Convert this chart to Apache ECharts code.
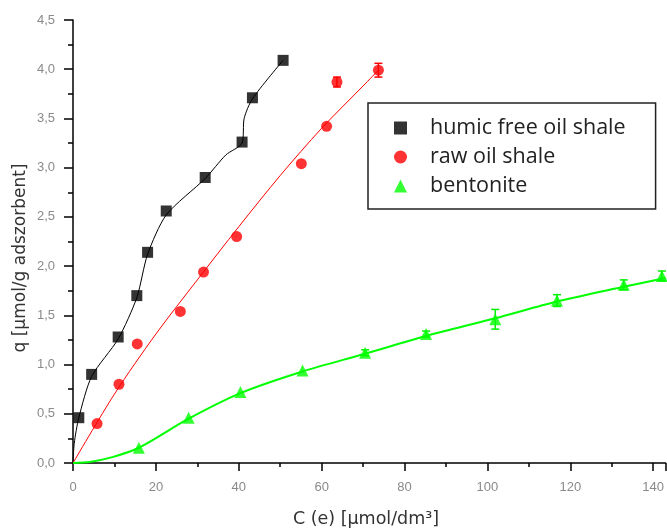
<!DOCTYPE html>
<html>
<head>
<meta charset="utf-8">
<script src="https://cdn.jsdelivr.net/npm/echarts@6/dist/echarts.min.js"></script>
<style>
html,body{margin:0;padding:0;background:#fff;}
#chart{width:667px;height:528px;}
</style>
</head>
<body>
<div id="chart"></div>
<script>
// ---- data ----
var humicPoints = [[1.4,0.46],[4.5,0.90],[10.9,1.28],[15.4,1.70],[18.0,2.14],[22.5,2.56],[31.9,2.90],[40.8,3.26],[43.3,3.71],[50.7,4.09]];
var humicFit = [[0,0],[0.3,0.2],[1.4,0.46],[4.5,0.88],[10.9,1.26],[15.4,1.68],[18.0,2.12],[22.5,2.52],[31.9,2.89],[36.9,3.13],[40.8,3.25],[41.3,3.5],[43.3,3.70],[50.7,4.09]];
var rawPoints = [[5.8,0.40],[11.1,0.80],[15.5,1.21],[25.9,1.54],[31.5,1.94],[39.5,2.30],[55.1,3.04],[61.2,3.42],[63.7,3.87],[73.7,3.99]];
var rawFit = [[0,0],[10,0.70],[20,1.31],[30,1.86],[40,2.40],[50,2.92],[60,3.40],[70,3.83],[73.7,3.99]];
var rawErr = [[63.7,3.87,0.05],[73.7,3.99,0.07]];
var bentPoints = [[15.9,0.155],[27.9,0.46],[40.4,0.72],[55.4,0.94],[70.5,1.12],[85.2,1.31],[101.9,1.46],[116.8,1.65],[132.9,1.81],[142.1,1.90]];
var bentFit = [[0,0],[4,0.01],[9.5,0.06],[15.9,0.155],[27.9,0.45],[40.4,0.71],[55.4,0.93],[70.5,1.11],[85.2,1.29],[101.9,1.47],[116.8,1.64],[132.9,1.79],[143,1.88]];
var bentErr = [[70.5,1.12,0.03],[85.2,1.31,0.03],[101.9,1.46,0.1],[116.8,1.65,0.06],[132.9,1.81,0.05],[142.1,1.90,0.05]];
var seriesNames = ['humic free oil shale','raw oil shale','bentonite'];
var xTitle = 'C (e) [\u00b5mol/dm\u00b3]';
var yTitle = 'q [\u00b5mol/g adszorbent]';

function errSeries(data, color){
  return {
    type:'custom', data:data, z:4, silent:true,
    renderItem:function(params, api){
      var x = api.value(0), y = api.value(1), e = api.value(2);
      var lo = api.coord([x, y-e]), hi = api.coord([x, y+e]);
      var w = 4;
      var st = {stroke:color, lineWidth:1.5};
      return {type:'group', children:[
        {type:'line', shape:{x1:lo[0],y1:lo[1],x2:hi[0],y2:hi[1]}, style:st},
        {type:'line', shape:{x1:lo[0]-w,y1:lo[1],x2:lo[0]+w,y2:lo[1]}, style:st},
        {type:'line', shape:{x1:hi[0]-w,y1:hi[1],x2:hi[0]+w,y2:hi[1]}, style:st}
      ]};
    }
  };
}

var chart = echarts.init(document.getElementById('chart'));
var font = '"Liberation Sans", Arial, sans-serif';
var titleFont = '"DejaVu Sans", sans-serif';
chart.setOption({
  animation:false,
  backgroundColor:'#fff',
  grid:{left:73, top:20, right:0, bottom:65},
  xAxis:{
    type:'value', min:0, max:143, interval:20,
    axisLine:{lineStyle:{color:'#000', width:1.5}},
    axisTick:{inside:false, length:8, lineStyle:{color:'#000', width:1.5}},
    minorTick:{show:true, splitNumber:2, length:4, lineStyle:{color:'#000', width:1.5}},
    splitLine:{show:false},
    axisLabel:{color:'#8a8a8a', fontSize:13, fontFamily:font, margin:18, showMaxLabel:false}
  },
  yAxis:{
    type:'value', min:0, max:4.5, interval:0.5,
    axisLine:{lineStyle:{color:'#000', width:1.5}},
    axisTick:{inside:false, length:9, lineStyle:{color:'#000', width:1.5}},
    minorTick:{show:true, splitNumber:2, length:5, lineStyle:{color:'#000', width:1.5}},
    splitLine:{show:false},
    axisLabel:{color:'#8a8a8a', fontSize:13, fontFamily:font, margin:18,
      formatter:function(v){return v.toFixed(1).replace('.',',');}}
  },
  legend:{
    orient:'vertical', left:368, top:103,
    padding:[14,30,12,26], itemGap:7, itemWidth:13, itemHeight:13,
    borderColor:'#222', borderWidth:1.5, backgroundColor:'#fff',
    textStyle:{color:'#222', fontSize:21.5, lineHeight:22, fontFamily:'"Open Sans", sans-serif', padding:[0,0,0,18]},
    data:[{name:seriesNames[0], icon:'rect'},{name:seriesNames[1], icon:'circle'},{name:seriesNames[2], icon:'triangle'}]
  },
  graphic:[
    {type:'text', x:366, y:519, style:{text:xTitle, fill:'#333', font:'17.5px ' + titleFont, textAlign:'center', textVerticalAlign:'middle'}},
    {type:'text', rotation:Math.PI/2, x:21, y:258, style:{text:yTitle, fill:'#333', font:'17px ' + titleFont, textAlign:'center', textVerticalAlign:'middle'}}
  ],
  series:[
    {type:'line', name:'fit1', data:humicFit, smooth:0.25, showSymbol:false, lineStyle:{color:'#000', width:1}, z:2, silent:true},
    {type:'line', name:'fit2', data:rawFit, smooth:0.3, showSymbol:false, lineStyle:{color:'#ff0000', width:1}, z:2, silent:true},
    {type:'line', name:'fit3', data:bentFit, smooth:0.3, showSymbol:false, lineStyle:{color:'#00ff00', width:2}, z:2, silent:true},
    errSeries(rawErr, '#ff0000'),
    errSeries(bentErr, '#00ee00'),
    {type:'scatter', name:seriesNames[0], data:humicPoints, symbol:'rect', symbolSize:11, itemStyle:{color:'#000'}, z:5},
    {type:'scatter', name:seriesNames[1], data:rawPoints, symbol:'circle', symbolSize:11, itemStyle:{color:'#ff0000'}, z:5},
    {type:'scatter', name:seriesNames[2], data:bentPoints, symbol:'triangle', symbolSize:12, itemStyle:{color:'#00ff00'}, z:5}
  ]
});
</script>
</body>
</html>
